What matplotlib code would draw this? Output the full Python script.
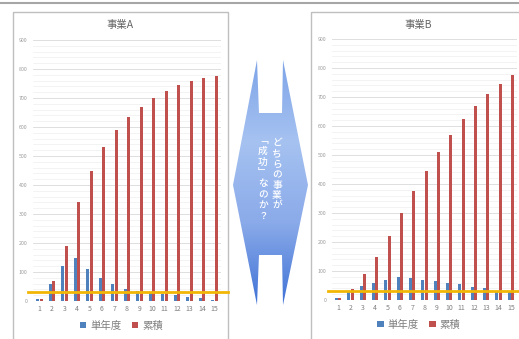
import matplotlib.pyplot as plt
import numpy as np
from matplotlib.colors import LinearSegmentedColormap
from matplotlib.patches import Polygon, Rectangle
from matplotlib.transforms import blended_transform_factory

plt.rcParams["font.family"] = ["Noto Sans CJK JP", "DejaVu Sans"]

years = list(range(1, 16))

# 事業A
a_single = [8, 60, 120, 150, 110, 80, 60, 42, 33, 30, 25, 20, 15, 10, 5]
a_total = [8, 70, 190, 340, 450, 530, 590, 635, 670, 700, 725, 745, 760, 770, 775]

# 事業B
b_single = [8, 28, 48, 60, 70, 80, 75, 70, 65, 60, 55, 45, 40, 30, 30]
b_total = [8, 38, 88, 150, 220, 300, 375, 445, 510, 570, 625, 670, 710, 745, 775]

threshold = 30
titles = ["事業A", "事業B"]
legend_labels = ["単年度", "累積"]
question_right = "どちらの事業が"
question_left = "﹁成功﹂なのか？"

BLUE = "#4F81BD"
RED = "#C0504D"
GOLD = "#F2B705"
GRID = "#d9d9d9"
TEXT = "#7f7f7f"

W, H = 519, 339
fig = plt.figure(figsize=(W / 100, H / 100), dpi=100)

# overlay in pixel coordinates for frames and the central shape
bg = fig.add_axes([0, 0, 1, 1])
bg.set_xlim(0, W)
bg.set_ylim(H, 0)
bg.axis("off")
bg.plot([0, W], [3, 3], color="#a6a6a6", lw=1.5)
bg.add_patch(Rectangle((13, 12), 215, 340, fill=False, ec="#bfbfbf", lw=1))
bg.add_patch(Rectangle((311, 12), 220, 340, fill=False, ec="#bfbfbf", lw=1))


def draw_chart(rect, single, total, title, line_x, title_x):
    ax = fig.add_axes(rect)
    x = np.array(years)
    ax.bar(x - 0.14, single, width=0.24, color=BLUE, zorder=3, label=legend_labels[0])
    ax.bar(x + 0.14, total, width=0.24, color=RED, zorder=3, label=legend_labels[1])
    ax.set_xlim(0.5, 15.5)
    ax.set_ylim(0, 900)
    ax.set_yticks(range(0, 901, 100))
    ax.set_yticks(range(0, 901, 20), minor=True)
    ax.set_xticks(years)
    ax.grid(axis="y", which="major", color=GRID, lw=0.6, zorder=0)
    ax.grid(axis="y", which="minor", color="#efefef", lw=0.5, zorder=0)
    ax.tick_params(axis="y", which="both", length=0, labelsize=3.8, labelcolor="#9a9a9a", pad=4)
    ax.tick_params(axis="x", length=0, labelsize=5, labelcolor=TEXT, pad=3)
    for s in ax.spines.values():
        s.set_visible(False)
    trans = blended_transform_factory(fig.transFigure, ax.transData)
    ax.plot(line_x, [threshold, threshold], color=GOLD, lw=2, transform=trans,
            clip_on=False, zorder=5)
    fig.text(title_x, 1 - 25 / H, title, ha="center", va="center", fontsize=7.5, color="#666666")
    ax.legend(loc="center", bbox_to_anchor=(0.47, -0.095), ncol=2, frameon=False,
              fontsize=7.5, handlelength=0.6, handleheight=0.6, handletextpad=0.4,
              columnspacing=1.0, labelcolor=TEXT, borderpad=0)
    return ax


draw_chart([33 / W, 38 / H, 188 / W, 261 / H], a_single, a_total, titles[0],
           [28 / W, 228 / W], 120 / W)
draw_chart([332 / W, 39 / H, 185 / W, 261 / H], b_single, b_total, titles[1],
           [328 / W, 1.0], 418 / W)

# central double-arrow shape with a vertical gradient
shape = [(257, 60), (233, 185), (257, 305), (259, 255), (282, 255), (283, 305),
         (308, 185), (283, 60), (282, 113), (259, 113)]
poly = Polygon(shape, closed=True, fc="none", ec="none")
bg.add_patch(poly)
grad = np.linspace(0, 1, 256).reshape(-1, 1)
cmap = LinearSegmentedColormap.from_list(
    "arrow", ["#7ea4e8", "#a6c2f1", "#8aaae9", "#3f72d6"])
img = bg.imshow(grad, cmap=cmap, extent=[233, 308, 305, 60], aspect="auto", zorder=2)
img.set_clip_path(poly)
bg.set_xlim(0, W)
bg.set_ylim(H, 0)

# vertical (tategaki) text, one character per line
for i, ch in enumerate(question_right):
    bg.text(277, 143 + i * 10.4, ch, ha="center", va="center", fontsize=7,
            color="white", fontweight="medium", zorder=3)
for i, ch in enumerate(question_left):
    bg.text(263, 140 + i * 10.8, ch, ha="center", va="center", fontsize=7,
            color="white", fontweight="medium", zorder=3)

fig.savefig("out.png", dpi=100)
